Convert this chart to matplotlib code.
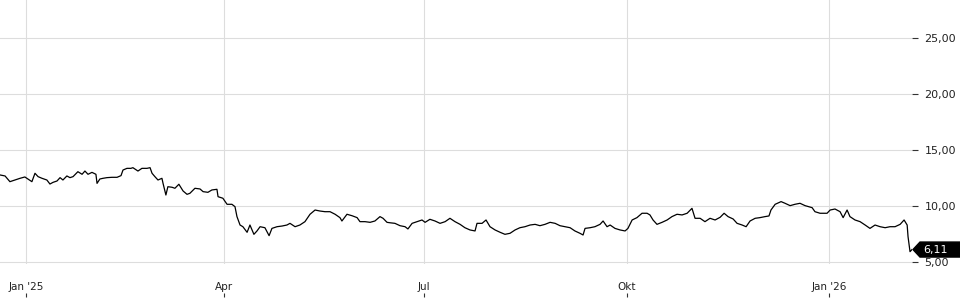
import numpy as np
import pandas as pd
import matplotlib
matplotlib.use("Agg")
import matplotlib.pyplot as plt
from matplotlib.patches import Polygon
import matplotlib.transforms as mtransforms

# days since 2025-01-01 and price values
days = [-11.8, -9.5, -8.6, -7.3, -5.0, -2.7, -0.5, 0.9, 2.7, 4.1, 5.5, 7.3, 9.5, 10.9,
        12.3, 14.1, 15.5, 16.8, 18.6, 20.0, 21.4, 23.6, 25.5, 26.8, 28.2, 30.0, 31.8,
        32.3, 33.6, 35.0, 36.8, 39.1, 41.4, 43.2, 44.1, 45.9, 47.7,
        48.6, 50.9, 52.7, 55.0, 56.4, 57.3, 58.6, 60.0, 61.8, 62.3, 63.6, 64.5, 66.4,
        67.7, 69.5, 71.4, 73.2, 74.5, 76.8, 79.1, 80.5, 82.7, 84.5, 86.8, 87.3, 89.5,
        91.4, 93.6, 95.0, 95.9, 97.3, 98.6, 100.5, 101.8, 103.6, 105.0,
        106.4, 108.6, 110.5, 111.8, 114.1, 116.4, 118.6, 120.0, 122.3, 124.5, 126.8,
        129.1, 131.4, 133.6, 135.9, 138.2, 140.5, 142.7, 143.6, 145.9, 148.2, 150.5,
        151.8, 154.1, 156.4, 158.6, 160.9, 162.3, 164.1,
        165.5, 167.7, 170.0, 172.3, 173.6, 175.5, 177.7, 180.0, 181.4, 183.6, 185.9,
        188.2, 190.5, 192.7, 195.0, 197.3, 199.5, 201.8, 204.1, 205.0, 207.3, 209.1,
        210.9, 213.2, 215.5, 217.7, 220.0, 222.3, 224.5,
        226.8, 229.1, 231.4, 233.6, 235.9, 238.2, 240.5, 242.7, 245.0, 247.3, 249.5,
        251.8, 253.2, 254.1, 256.4, 258.6, 260.9, 262.3, 264.1, 265.5, 267.7, 270.0,
        272.3, 273.6, 275.5, 277.7, 280.0, 282.3, 283.6,
        285.0, 286.8, 289.1, 291.4, 293.6, 295.9, 298.2, 300.5, 302.7, 304.1, 306.4,
        308.6, 310.9, 313.2, 315.5, 317.3, 319.1, 321.4, 323.2, 325.5, 327.3, 329.1,
        331.4, 333.6, 335.9, 337.7, 338.6, 340.5, 343.2,
        345.0, 347.3, 349.5, 351.8, 354.1, 357.3, 358.6, 360.9, 364.1, 365.5, 367.7,
        370.0, 371.4, 373.2, 374.5, 376.8, 379.1, 381.4, 383.6, 385.9, 388.2, 390.5,
        392.7, 395.0, 397.3, 399.1, 400.5, 400.9, 401.8, 402.7]
prices = [12.77, 12.68, 12.47, 12.17, 12.32, 12.47, 12.59, 12.41, 12.17, 12.92, 12.62, 12.47, 12.32, 11.96,
          12.11, 12.23, 12.53, 12.32, 12.68, 12.53, 12.62, 13.06, 12.83, 13.12, 12.83, 13.00, 12.83,
          12.02, 12.41, 12.47, 12.53, 12.56, 12.56, 12.71, 13.21, 13.36, 13.36,
          13.42, 13.12, 13.36, 13.36, 13.42, 12.92, 12.62, 12.32, 12.47, 12.02, 10.98, 11.72, 11.67,
          11.58, 11.94, 11.34, 11.04, 11.13, 11.58, 11.52, 11.28, 11.22, 11.43, 11.49, 10.83, 10.69,
          10.15, 10.15, 9.94, 9.05, 8.30, 8.15, 7.65, 8.30, 7.47, 7.77,
          8.15, 8.06, 7.35, 8.00, 8.15, 8.21, 8.30, 8.45, 8.15, 8.30, 8.60,
          9.26, 9.64, 9.55, 9.49, 9.49, 9.26, 8.96, 8.66, 9.26, 9.13, 8.96,
          8.60, 8.60, 8.54, 8.66, 9.05, 8.90, 8.54,
          8.50, 8.45, 8.24, 8.15, 7.95, 8.45, 8.60, 8.75, 8.54, 8.81, 8.66,
          8.45, 8.60, 8.90, 8.60, 8.36, 8.06, 7.86, 7.77, 8.45, 8.45, 8.75,
          8.15, 7.86, 7.65, 7.47, 7.56, 7.86, 8.06,
          8.15, 8.30, 8.36, 8.24, 8.36, 8.54, 8.45, 8.24, 8.15, 8.06, 7.77,
          7.56, 7.41, 8.00, 8.06, 8.15, 8.36, 8.66, 8.15, 8.30, 8.00, 7.86,
          7.77, 8.00, 8.75, 8.96, 9.35, 9.35, 9.20,
          8.75, 8.36, 8.54, 8.75, 9.05, 9.26, 9.20, 9.35, 9.79, 8.90, 8.90,
          8.60, 8.90, 8.75, 8.99, 9.35, 9.05, 8.84, 8.45, 8.30, 8.15, 8.66,
          8.90, 8.96, 9.05, 9.11, 9.64, 10.15, 10.39,
          10.24, 10.03, 10.15, 10.24, 10.03, 9.85, 9.49, 9.35, 9.35, 9.64, 9.73,
          9.49, 8.96, 9.64, 9.05, 8.75, 8.60, 8.30, 8.00, 8.30, 8.15, 8.06,
          8.15, 8.15, 8.36, 8.75, 8.30, 7.26, 5.92, 6.11]

last_price = 6.11
y_ticks = [5, 10, 15, 20, 25]
x_ticks = ["2025-01-01", "2025-04-01", "2025-07-01", "2025-10-01", "2026-01-01"]
x_labels = ["Jan '25", "Apr", "Jul", "Okt", "Jan '26"]

start = pd.Timestamp("2025-01-01")
dates = start + pd.to_timedelta(days, unit="D")
tick_dates = pd.to_datetime(x_ticks)

fig = plt.figure(figsize=(9.6, 3.0), dpi=100)
ax = fig.add_axes([0.0, 0.12, 912 / 960, 0.88])

ax.plot(dates, prices, color="black", linewidth=0.9)

ax.set_xlim(start + pd.Timedelta(days=-11.8), start + pd.Timedelta(days=402.7))
ax.set_ylim(4.82, 28.39)

ax.set_xticks(tick_dates)
ax.set_xticklabels(x_labels)
ax.set_yticks(y_ticks)
ax.set_yticklabels(["%d,00" % v for v in y_ticks])

ax.grid(True, color="#dddddd", linewidth=0.8)
ax.set_axisbelow(True)
for s in ax.spines.values():
    s.set_visible(False)

ax.yaxis.tick_right()
ax.tick_params(axis="y", length=4, width=0.8, color="#333333", pad=5,
               labelsize=8, labelcolor="#222222")
ax.tick_params(axis="x", length=0, pad=13, labelsize=7.5, labelcolor="#222222")

# small tick marks at the very bottom, below the labels
sec = ax.secondary_xaxis(-0.125)
sec.set_xticks(tick_dates)
sec.set_xticklabels([])
sec.spines["bottom"].set_visible(False)
sec.tick_params(axis="x", direction="in", length=3, width=0.8, color="#333333")

# last price tag
trans = mtransforms.blended_transform_factory(ax.transAxes, ax.transData)
px = 1 / 912
hh = 7.5 / 11.2
tag = Polygon([(1 + 1 * px, last_price), (1 + 8 * px, last_price + hh),
               (1 + 50 * px, last_price + hh), (1 + 50 * px, last_price - hh),
               (1 + 8 * px, last_price - hh)],
              closed=True, transform=trans, facecolor="black", edgecolor="black",
              clip_on=False, zorder=10)
ax.add_patch(tag)
ax.text(1 + 11 * px, last_price, "6,11", transform=trans, color="white",
        fontsize=8, va="center", ha="left", zorder=11, clip_on=False)

fig.savefig("out.png", dpi=100)
